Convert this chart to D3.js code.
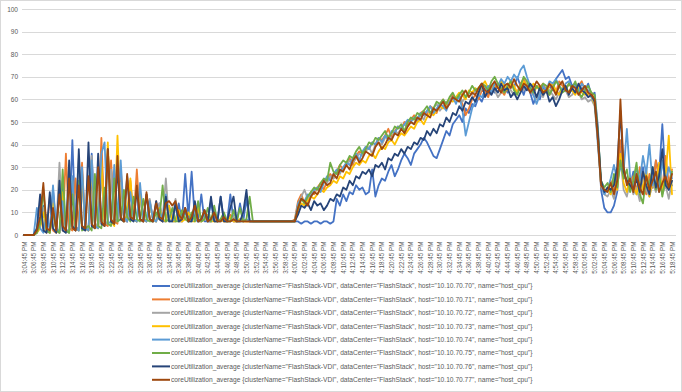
<!DOCTYPE html>
<html>
<head>
<meta charset="utf-8">
<script src="https://cdn.jsdelivr.net/npm/d3@7"></script>
<style>
  body { margin: 0; background: #fff; }
  svg { display: block; font-family: "Liberation Sans", Arial, sans-serif; }
</style>
</head>
<body>
<svg id="chart" width="682" height="392"></svg>
<script>
// hosts / colours (Excel office palette)
const hosts = ["10.10.70.70", "10.10.70.71", "10.10.70.72", "10.10.70.73",
               "10.10.70.74", "10.10.70.75", "10.10.70.76", "10.10.70.77"];
const colors = ["#4472C4", "#ED7D31", "#A5A5A5", "#FFC000",
                "#5B9BD5", "#70AD47", "#264478", "#9E480E"];

// one sample every 40s, label every 3 samples (2 min)
const tickLabels = [
  "3:04:45 PM","3:06:45 PM","3:08:45 PM","3:10:45 PM","3:12:45 PM","3:14:45 PM","3:16:45 PM","3:18:45 PM",
  "3:20:45 PM","3:22:45 PM","3:24:45 PM","3:26:45 PM","3:28:45 PM","3:30:45 PM","3:32:45 PM","3:34:45 PM",
  "3:36:45 PM","3:38:45 PM","3:40:45 PM","3:42:45 PM","3:44:45 PM","3:46:45 PM","3:48:45 PM","3:50:45 PM",
  "3:52:45 PM","3:54:45 PM","3:56:45 PM","3:58:45 PM","4:00:45 PM","4:02:45 PM","4:04:45 PM","4:06:45 PM",
  "4:08:45 PM","4:10:45 PM","4:12:45 PM","4:14:45 PM","4:16:45 PM","4:18:45 PM","4:20:45 PM","4:22:45 PM",
  "4:24:45 PM","4:26:45 PM","4:28:45 PM","4:30:45 PM","4:32:45 PM","4:34:45 PM","4:36:45 PM","4:38:45 PM",
  "4:40:45 PM","4:42:45 PM","4:44:45 PM","4:46:45 PM","4:48:45 PM","4:50:45 PM","4:52:45 PM","4:54:45 PM",
  "4:56:45 PM","4:58:45 PM","5:00:45 PM","5:02:45 PM","5:04:45 PM","5:06:45 PM","5:08:45 PM","5:10:45 PM",
  "5:12:45 PM","5:14:45 PM","5:16:45 PM","5:18:45 PM"
];
const yTicks = [0, 10, 20, 30, 40, 50, 60, 70, 80, 90, 100];

const h70 = [0,0,0,0,1,4,13,2,1,20, 3,1,23,2,2,42,4,2,28,3,
  2,36,5,4,35,6,5,30,7,6, 26,7,6,22,7,6,18,7,6,15,
  7,6,14,6,6,13,6,6,14,6, 27,8,28,7,6,18,6,6,15,6,
  6,17,6,6,18,6,6,14,6,16, 6,6,6,6,6,6,6,6,6,6,
  6,6,6,6,6,6,5,6,6,5, 6,6,5,6,6,5,6,16,13,18,
  15,19,18,22,20,21,18,19,29,17, 22,25,24,28,31,26,29,33,36,34,
  31,36,38,40,43,41,38,35,34,38, 42,46,44,49,51,53,50,56,54,58,
  57,61,59,63,62,65,63,67,64,66, 63,68,65,70,66,62,67,63,58,62,
  60,65,63,66,64,69,71,73,69,70, 66,67,63,65,64,67,62,63,
  48,20,12,
  10,10,13,19,38,26,24,21,28,18, 22,30,19,25,21,33,27,49,24,20,22];
const h71 = [0,0,0,0,2,14,3,1,17,2, 1,22,2,36,3,2,25,3,32,3,
  2,28,4,3,43,5,4,33,6,5, 30,7,6,24,7,29,7,6,18,7,
  6,15,7,6,16,6,7,13,6,6, 11,6,7,12,6,6,10,6,6,9,
  6,7,6,6,9,6,6,7,6,6, 6,6,6,6,6,6,6,6,6,6,
  6,6,6,6,7,15,18,14,16,19, 18,21,23,20,24,27,25,28,31,29,
  32,34,31,35,37,36,39,38,41,40, 43,42,44,47,43,46,48,47,50,49,
  51,53,50,54,55,53,57,56,54,58, 60,57,59,62,60,61,58,53,56,60,
  62,60,64,63,61,66,65,67,64,62, 66,68,65,63,67,69,66,64,62,66,
  65,67,64,62,66,63,68,66,64,67, 65,63,66,68,64,62,63,60,
  44,21,19,
  20,24,19,26,42,28,23,20,26,19, 30,22,18,27,21,33,24,20,35,23,29];
const h72 = [0,0,0,0,2,6,12,2,1,16, 2,32,3,1,20,3,2,34,3,2,
  24,35,5,4,27,6,5,29,7,6, 23,8,6,20,7,6,17,7,6,16,
  7,6,14,7,25,6,7,16,6,6, 12,6,7,11,6,6,9,6,6,8,
  6,6,7,6,6,8,6,6,7,6, 6,6,6,6,6,6,6,6,6,6,
  6,6,6,6,6,13,17,20,16,18, 19,21,20,24,23,26,25,28,27,30,
  31,33,32,34,36,35,37,39,36,40, 41,40,43,44,42,46,45,47,49,48,
  50,49,52,53,51,55,54,56,58,55, 57,59,58,61,60,62,59,61,63,62,
  64,62,65,66,63,65,64,61,63,66, 67,64,62,63,66,64,67,65,62,60,
  63,61,65,64,62,60,63,65,64,61, 62,64,63,60,61,59,60,57,
  42,23,18,
  17,20,16,22,34,20,17,24,18,21, 15,26,20,17,23,19,25,18,22,16,24];
const h73 = [0,0,0,0,1,3,10,2,1,14, 2,1,19,2,1,24,3,2,27,3,
  2,30,4,3,33,5,41,6,4,44, 7,6,9,25,7,6,19,7,6,14,
  7,6,12,7,6,13,6,6,11,6, 7,10,6,6,12,6,7,9,6,6,
  6,7,6,6,8,6,6,7,6,6, 6,6,6,6,6,6,6,6,6,6,
  6,6,6,6,6,11,14,13,15,17, 16,18,20,19,21,22,24,23,26,25,
  28,27,30,32,31,33,32,35,36,34, 37,39,38,41,42,40,43,45,44,46,
  48,47,50,51,49,52,54,53,55,57, 56,58,60,59,61,63,62,60,64,63,
  65,63,66,68,65,64,67,65,68,66, 64,67,66,63,65,68,66,64,67,65,
  66,64,63,66,67,64,62,65,66,63, 64,62,65,63,62,63,61,58,
  43,22,19,
  21,18,24,20,36,23,19,26,22,18, 25,20,29,17,24,21,32,19,26,44,18];
const h74 = [0,0,0,0,12,3,1,9,2,22, 3,1,15,2,1,26,3,2,30,3,
  2,33,4,3,36,41,5,6,31,7, 33,8,6,19,7,6,23,7,6,15,
  7,6,11,7,18,6,6,13,6,7, 10,6,6,12,6,7,9,6,6,11,
  6,6,9,6,6,7,6,6,6,7, 6,6,6,6,6,6,6,6,6,6,
  6,6,6,6,6,14,16,15,18,17, 20,21,19,23,26,24,27,29,28,30,
  32,31,34,36,33,37,39,38,41,40, 43,41,44,42,46,45,48,47,49,51,
  50,52,51,54,53,55,57,54,56,58, 57,55,59,61,58,62,55,44,50,56,
  59,62,61,64,66,63,67,66,69,67, 70,68,71,69,73,75,70,66,62,58,
  62,66,64,68,67,69,66,64,67,68, 65,66,63,67,65,64,61,59,
  40,22,18,
  20,25,31,24,30,28,47,26,21,30, 24,35,27,40,22,28,19,33,23,30,25];
const h75 = [0,0,0,0,1,5,20,2,1,10, 2,1,29,2,1,18,3,24,2,3,
  4,2,27,4,3,21,5,4,25,6, 7,20,8,6,17,7,6,16,7,6,
  6,10,7,22,6,7,12,6,6,11, 7,6,10,6,15,6,7,12,6,13,
  6,7,10,6,6,11,6,12,6,7, 17,6,6,6,6,6,6,6,6,6,
  6,6,6,6,6,12,16,14,17,19, 21,20,23,25,24,32,28,27,31,33,
  32,35,34,37,39,36,38,41,40,43, 42,44,46,43,45,48,47,49,46,50,
  52,51,54,53,55,57,54,56,59,58, 60,58,61,63,60,62,64,61,63,66,
  64,65,67,66,64,68,70,67,65,63, 66,68,64,62,66,70,68,65,63,66,
  64,67,66,62,65,68,66,63,64,67, 65,68,63,61,64,66,63,62,
  46,24,21,
  23,19,27,21,33,25,29,19,24,32, 18,14,26,22,30,20,27,17,25,21,28];
const h76 = [0,0,0,0,3,18,2,1,19,3, 1,24,2,1,33,4,2,38,3,2,
  41,4,3,36,5,4,38,6,5,30, 7,6,26,7,6,20,7,6,18,7,
  6,15,7,6,17,6,6,14,6,7, 12,6,6,15,6,7,11,6,17,6,
  6,17,6,6,12,17,6,6,10,20, 6,6,6,6,6,6,6,6,6,6,
  6,6,6,6,6,9,13,12,14,11, 15,13,14,11,13,16,15,18,17,21,
  20,24,22,26,25,28,27,29,26,31, 30,32,29,34,33,36,35,38,36,39,
  38,41,40,43,42,46,44,47,45,49, 48,52,50,54,53,57,55,59,58,61,
  59,63,67,61,64,62,65,63,67,64, 65,61,63,60,63,66,64,67,65,61,
  65,62,64,59,61,57,60,64,66,62, 65,63,67,64,63,61,62,59,
  45,24,19,
  21,20,22,30,55,28,24,22,20,25, 19,28,22,18,30,21,26,38,22,20,24];
const h77 = [0,0,0,0,2,8,23,3,2,12, 2,18,4,2,25,3,2,22,4,3,
  26,5,3,30,6,4,38,7,5,35, 8,6,27,8,7,22,7,6,19,7,
  6,14,8,7,14,15,13,15,9,7, 12,6,8,13,6,7,11,6,7,10,
  6,6,8,6,6,7,6,6,6,6, 6,6,6,6,6,6,6,6,6,6,
  6,6,6,6,6,12,16,15,13,17, 19,18,21,24,22,23,27,25,29,28,
  31,29,33,35,32,34,37,36,35,39, 41,38,40,43,42,45,44,47,45,48,
  50,49,52,51,54,53,52,56,55,57, 59,56,58,61,60,59,62,64,61,63,
  62,65,67,64,63,66,68,65,63,66, 67,65,69,66,64,67,66,63,65,68,
  66,63,64,67,65,62,66,68,64,63, 66,65,62,64,66,63,62,60,
  42,22,20,
  19,23,18,24,60,30,22,25,19,27, 21,18,26,20,24,28,19,23,26,21,27];

const seriesValues = [h70, h71, h72, h73, h74, h75, h76, h77];
const nPts = d3.max(seriesValues, s => s.length);

const svg = d3.select("#chart");
const textColor = "#595959";

// chart border
svg.append("rect")
  .attr("x", 0.5).attr("y", 0.5).attr("width", 681).attr("height", 391)
  .attr("fill", "#fff").attr("stroke", "#D9D9D9");

const plotLeft = 22, plotRight = 676;
const x = d3.scaleLinear().domain([0, nPts - 1]).range([24, 672]);
const y = d3.scaleLinear().domain([0, 100]).range([235, 9]);

// gridlines
svg.append("g").selectAll("line")
  .data(yTicks)
  .join("line")
  .attr("x1", plotLeft).attr("x2", plotRight)
  .attr("y1", d => Math.round(y(d)) + 0.5).attr("y2", d => Math.round(y(d)) + 0.5)
  .attr("stroke", "#D9D9D9").attr("stroke-width", 1);

// y axis labels
const yAxis = svg.append("g")
  .attr("transform", `translate(${plotLeft - 2},0)`)
  .call(d3.axisLeft(y).tickValues(yTicks).tickSize(0).tickPadding(2));
yAxis.select(".domain").remove();
yAxis.selectAll("text").attr("fill", textColor).style("font-size", "6.5px")
  .style("font-family", "Liberation Sans, Arial, sans-serif");

// x axis labels (rotated)
const tickIdx = tickLabels.map((t, i) => i * 3);
const xAxis = svg.append("g")
  .attr("transform", `translate(0,${Math.round(y(0)) + 0.5})`)
  .call(d3.axisBottom(x).tickValues(tickIdx).tickSize(0).tickFormat((d, i) => tickLabels[i]));
xAxis.select(".domain").remove();
xAxis.selectAll("text")
  .attr("transform", "rotate(-90)")
  .attr("x", -6).attr("y", 0).attr("dy", "0.32em")
  .style("text-anchor", "end")
  .style("font-size", "6.3px")
  .style("font-family", "Liberation Sans, Arial, sans-serif")
  .attr("fill", textColor);

// lines
const line = d3.line().x((d, i) => x(i)).y(d => y(d));
svg.append("g").selectAll("path")
  .data(seriesValues)
  .join("path")
  .attr("d", d => line(d))
  .attr("fill", "none")
  .attr("stroke", (d, i) => colors[i])
  .attr("stroke-width", 1.8)
  .attr("stroke-linejoin", "round")
  .attr("stroke-linecap", "round");

// legend
const legend = svg.append("g").selectAll("g")
  .data(hosts)
  .join("g")
  .attr("transform", (d, i) => `translate(152,${286 + i * 13.4})`);
legend.append("line")
  .attr("x1", 0).attr("x2", 18)
  .attr("stroke", (d, i) => colors[i]).attr("stroke-width", 2);
legend.append("text")
  .attr("x", 19).attr("y", 0).attr("dy", "0.35em")
  .attr("fill", textColor)
  .style("font-size", "6.65px")
  .text(d => `coreUtilization_average {clusterName="FlashStack-VDI", dataCenter="FlashStack", host="${d}", name="host_cpu"}`);
</script>
</body>
</html>
